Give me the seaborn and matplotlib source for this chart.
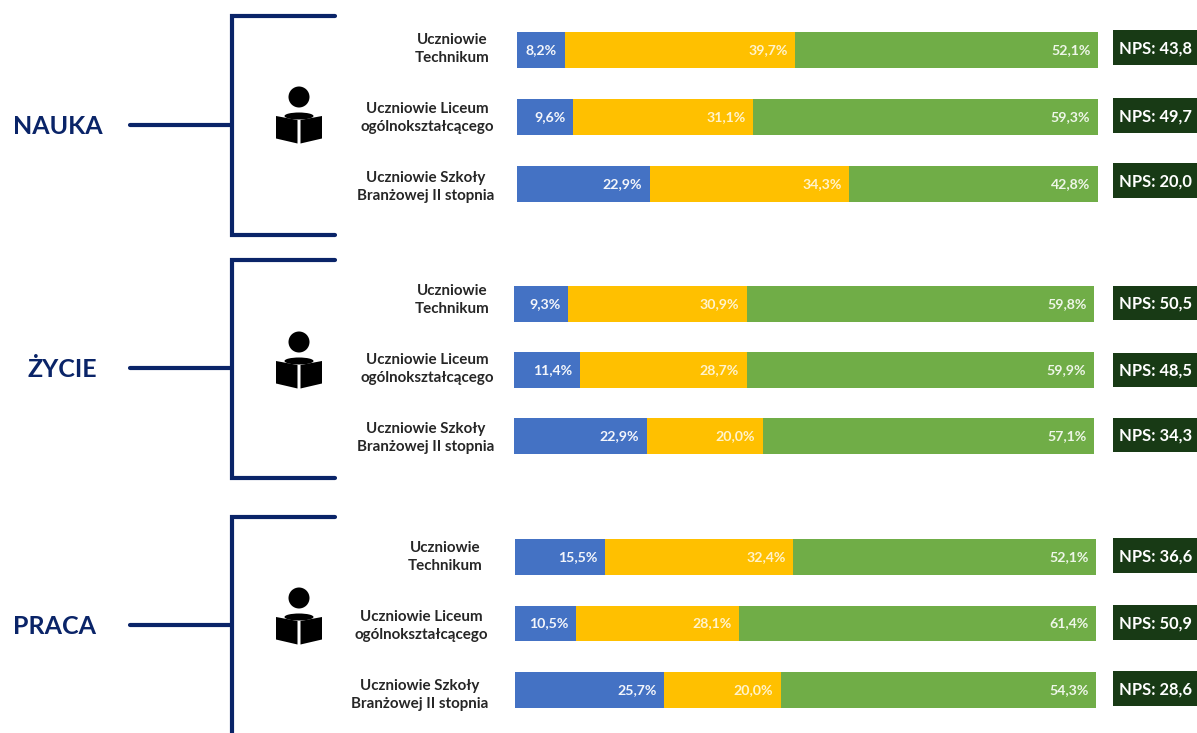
import pandas as pd
import numpy as np
import seaborn as sns
import matplotlib.pyplot as plt
from matplotlib.patches import Polygon, Rectangle, Ellipse

# data
groups = ["NAUKA", "ŻYCIE", "PRACA"]
blue = [[8.2, 9.6, 22.9], [9.3, 11.4, 22.9], [15.5, 10.5, 25.7]]
yellow = [[39.7, 31.1, 34.3], [30.9, 28.7, 20.0], [32.4, 28.1, 20.0]]
green = [[52.1, 59.3, 42.8], [59.8, 59.9, 57.1], [52.1, 61.4, 54.3]]
nps = [[43.8, 49.7, 20.0], [50.5, 48.5, 34.3], [36.6, 50.9, 28.6]]
row_labels = ["Uczniowie\nTechnikum", "Uczniowie Liceum\nogólnokształcącego", "Uczniowie Szkoły\nBranżowej II stopnia"]

colors = ["#4472C4", "#FFC000", "#70AD47"]
navy = "#0A2468"
W, H = 1197, 733

sns.set_theme(style="white")
plt.rcParams["font.family"] = ["Lato", "DejaVu Sans"]
plt.rcParams["font.weight"] = "bold"

fig = plt.figure(figsize=(W / 100, H / 100), dpi=100, facecolor="white")

# overlay in pixel coordinates for brackets, icons and text
bg = fig.add_axes([0, 0, 1, 1])
bg.set_xlim(0, W)
bg.set_ylim(H, 0)
bg.axis("off")

bar_left = [517, 514, 515]
bar_right = [1098, 1094, 1096]
bar_top = [32, 286, 539]
bar_bottom = [202, 454, 708]
bracket_y = [(16, 235), (260, 478), (517, 740)]
stem_y = [125, 368, 625]
title_x = [58, 62, 54.5]
icon_y = [97, 342, 598]
label_x = [[452, 427, 426], [452, 427, 426], [445, 421, 420]]
label_y = [[49, 118, 187], [300, 369, 438], [557, 626, 695]]
nps_top = [[30, 98, 163], [286, 353, 418], [538, 605, 671]]
nps_h = [35, 34, 35]


def draw_icon(ax, cx, cy):
    ax.add_patch(Ellipse((cx, cy), 21, 21, color="black", lw=0))
    ax.add_patch(Ellipse((cx, cy + 19), 29, 7, color="black", lw=0))
    ax.add_patch(Polygon([(cx - 23, cy + 19), (cx - 1.5, cy + 23), (cx - 1.5, cy + 46.5), (cx - 23, cy + 41.5)], color="black", lw=0))
    ax.add_patch(Polygon([(cx + 23, cy + 19), (cx + 1.5, cy + 23), (cx + 1.5, cy + 46.5), (cx + 23, cy + 41.5)], color="black", lw=0))


for g in range(3):
    df = pd.DataFrame({"row": row_labels, "a": blue[g], "b": yellow[g], "c": green[g]})
    df["to_a"] = df["a"]
    df["to_b"] = df["a"] + df["b"]
    df["to_c"] = df["to_b"] + df["c"]

    ax = fig.add_axes([bar_left[g] / W, 1 - bar_bottom[g] / H,
                       (bar_right[g] - bar_left[g]) / W, (bar_bottom[g] - bar_top[g]) / H])
    ax.patch.set_alpha(0)
    # stacked bars, longest drawn first
    for col, color in zip(["to_c", "to_b", "to_a"], colors[::-1]):
        sns.barplot(data=df, y="row", x=col, color=color, saturation=1, width=0.54,
                    linewidth=0, ax=ax, order=row_labels)
    ax.set_xlim(0, 100)
    ax.set_ylim(2 + 0.27, -0.27)
    ax.axis("off")

    for i in range(3):
        for col, name, txt in [("to_a", "a", "#F4F6FB"), ("to_b", "b", "#FFF3CC"), ("to_c", "c", "#EEF6E8")]:
            label = f"{df[name][i]:.1f}%".replace(".", ",")
            ax.annotate(label, (df[col][i], i), xytext=(-5.5, 0), textcoords="offset points",
                        ha="right", va="center", color=txt, fontsize=10.2)

    # bracket
    y0, y1 = bracket_y[g]
    bg.plot([335, 232, 232, 335], [y0, y0, y1, y1], color=navy, lw=3, solid_capstyle="round", solid_joinstyle="miter")
    bg.plot([130, 232], [stem_y[g], stem_y[g]], color=navy, lw=3, solid_capstyle="round")
    bg.text(title_x[g], stem_y[g] + 1.5, groups[g], color=navy, fontsize=18, ha="center", va="center")
    draw_icon(bg, 299, icon_y[g])

    for i in range(3):
        bg.text(label_x[g][i], label_y[g][i], row_labels[i], ha="center", va="center", color="#262626",
                fontsize=10.9, linespacing=1.3)
        top = nps_top[g][i]
        bg.add_patch(Rectangle((1113, top), 84, nps_h[g], color="#183A15", lw=0))
        bg.text(1119, top + nps_h[g] / 2 + 1, f"NPS: {nps[g][i]:.1f}".replace(".", ","), color="white",
                fontsize=11.9, ha="left", va="center")

fig.savefig("out.png", dpi=100)
